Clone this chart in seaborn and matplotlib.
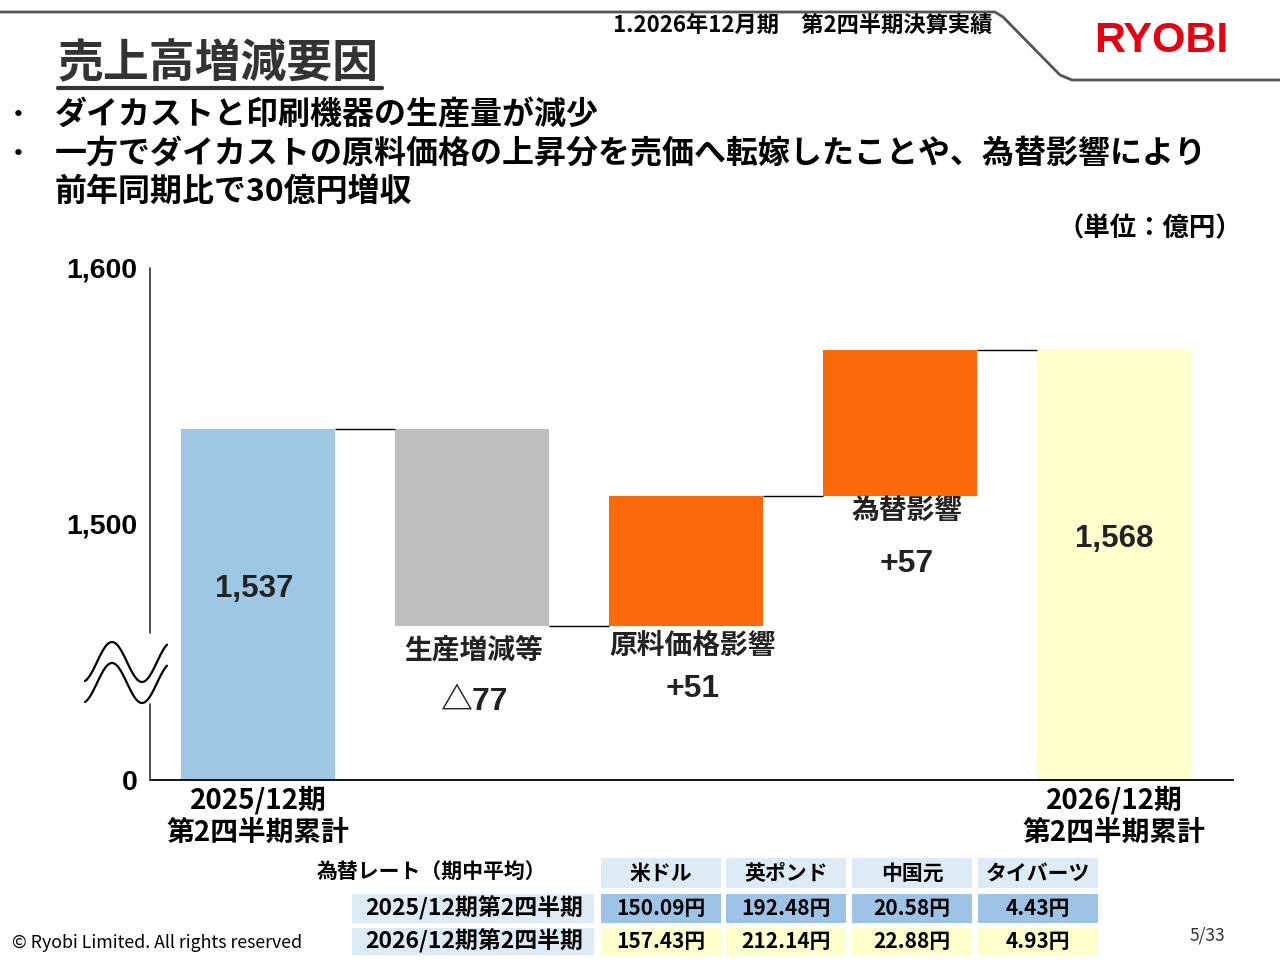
import numpy as np
import pandas as pd
import seaborn as sns
import matplotlib.pyplot as plt
from matplotlib.patches import Rectangle
from matplotlib.lines import Line2D

# ---------------------------------------------------------
# DATA (億円)
# ---------------------------------------------------------
start_label = "2025/12期\n第2四半期累計"
end_label = "2026/12期\n第2四半期累計"
start_value = 1537
end_value = 1568
factor_names = ["生産増減等", "原料価格影響", "為替影響"]
factor_values = [-77, 51, 57]
factor_texts = ["△77", "+51", "+57"]

y_ticks = [1400, 1500, 1600]          # 1400 is drawn as the broken "0"
y_tick_labels = ["0", "1,500", "1,600"]

currencies = ["米ドル", "英ポンド", "中国元", "タイバーツ"]
rate_rows = ["2025/12期第2四半期", "2026/12期第2四半期"]
rates_2025 = [150.09, 192.48, 20.58, 4.43]
rates_2026 = [157.43, 212.14, 22.88, 4.93]

# styles
bar_colors = ["#9DC7E5", "#BFBEBC", "#FA6A0A", "#FA6A0A", "#FFFFCC"]
TXT = "#222222"
JP = ["Noto Sans CJK JP", "DejaVu Sans"]
NUM = ["Liberation Sans", "Noto Sans CJK JP", "DejaVu Sans"]

W, H = 1280, 960


def px(x, y):
    return x / W, 1 - y / H


sns.set_theme(style="white")
plt.rcParams["font.family"] = JP

fig = plt.figure(figsize=(12.8, 9.6), dpi=100)

# ---------------------------------------------------------
# WATERFALL
# ---------------------------------------------------------
levels = np.cumsum([start_value] + factor_values)      # running totals
bottoms = [0] + list(levels[:-1]) + [0]
heights = [start_value] + factor_values + [end_value]
items = ["start"] + factor_names + ["end"]
df = pd.DataFrame({"item": items, "value": heights})

ax = fig.add_axes([150 / W, 1 - 780 / H, (1233 - 150) / W, 512 / H])
sns.barplot(data=df, x="item", y="value", bottom=bottoms, width=0.72,
            color=bar_colors[0], saturation=1, errorbar=None, linewidth=0,
            ax=ax)
for patch, c in zip(ax.patches, bar_colors):
    patch.set_facecolor(c)

ax.set_ylim(1400, 1600)
ax.set_xlim(-0.505, 4.556)
ax.set_xlabel("")
ax.set_ylabel("")

# connectors between bars
half = 0.36
for i, lv in enumerate(levels):
    ax.hlines(lv, i + half, i + 1 - half, color="black", lw=1.0)

ax.set_yticks(y_ticks)
ax.set_yticklabels(y_tick_labels, fontsize=20.5, fontweight="bold",
                   family=NUM, color="black")
ax.set_xticks(range(len(items)))
ax.set_xticklabels([start_label, "", "", "", end_label], fontsize=20,
                   fontweight="bold", color="black", linespacing=1.2)
ax.tick_params(axis="y", length=0, pad=9)
ax.tick_params(axis="x", length=0, pad=4)

for s in ["top", "right", "left"]:
    ax.spines[s].set_visible(False)
ax.spines["bottom"].set_color("black")
ax.spines["bottom"].set_linewidth(1.3)

# broken left axis
for y0, y1 in [(268, 633), (704, 780)]:
    fig.add_artist(Line2D([150 / W, 150 / W], [1 - y0 / H, 1 - y1 / H],
                          color="#444444", lw=1.3))
wx = np.linspace(85, 167, 120)
for c in [662, 683]:
    wy = c - 20 * np.cos(2 * np.pi * (wx - 112) / 60)
    fig.add_artist(Line2D(wx / W, 1 - wy / H, color="black", lw=1.6))

# totals inside bars
ax.annotate(f"{start_value:,}", (0, start_value), xytext=(-3, -160 * 0.72),
            textcoords="offset points", ha="center", va="center",
            fontsize=22.5, fontweight="bold", family=NUM, color=TXT)
ax.annotate(f"{end_value:,}", (4, end_value), xytext=(0, -189 * 0.72),
            textcoords="offset points", ha="center", va="center",
            fontsize=22.5, fontweight="bold", family=NUM, color=TXT)

# factor names and values below the floating bars
name_off = [24, 20, 15]
val_off = [76, 63, 68]
x_off = [2, 7, 7]
for i, (name, txt) in enumerate(zip(factor_names, factor_texts)):
    low = min(levels[i], levels[i + 1])
    ax.annotate(name, (i + 1, low), xytext=(x_off[i] * 0.72, -name_off[i] * 0.72),
                textcoords="offset points", ha="center", va="center",
                fontsize=20, fontweight="bold", color=TXT)
    ax.annotate(txt, (i + 1, low), xytext=(x_off[i] * 0.72, -val_off[i] * 0.72),
                textcoords="offset points", ha="center", va="center",
                fontsize=23, fontweight="bold", family=NUM, color=TXT)

# ---------------------------------------------------------
# HEADER
# ---------------------------------------------------------
hx = [0, 995, 1003, 1060, 1072, 1280]
hy = [12, 12, 17, 75, 80, 80]
fig.add_artist(Line2D(np.array(hx) / W, 1 - np.array(hy) / H,
                      color="#555555", lw=2))
fig.text(*px(992, 25), "1.2026年12月期　第2四半期決算実績", ha="right",
         va="center", fontsize=16, fontweight="bold", color="black")
fig.text(*px(1161, 41), "RYOBI", ha="center", va="center", fontsize=31,
         fontweight="bold", family=["Liberation Sans"], color="#E60012")

fig.text(*px(58, 64), "売上高増減要因", ha="left", va="center",
         fontsize=33, fontweight="bold", color="#333333")
fig.add_artist(Line2D([58 / W, 382 / W], [1 - 88 / H, 1 - 88 / H],
                      color="#333333", lw=3))

bullets = [(115, "ダイカストと印刷機器の生産量が減少", True),
           (154, "一方でダイカストの原料価格の上昇分を売価へ転嫁したことや、為替影響により", True),
           (192, "前年同期比で30億円増収", False)]
for y, line, dot in bullets:
    if dot:
        fig.text(*px(18, y), "・", ha="center", va="center", fontsize=18,
                 fontweight="bold", color="black")
    fig.text(*px(55, y), line, ha="left", va="center", fontsize=23,
             fontweight="bold", color="black")

fig.text(*px(1242, 229), "（単位：億円）", ha="right", va="center",
         fontsize=19, fontweight="bold", color="black")

# ---------------------------------------------------------
# FX RATE TABLE
# ---------------------------------------------------------
col_x = [601, 726, 852, 978]
col_w = 120
rows_y = [(858, 888), (894, 923), (928, 955)]
fills = ["#DDEBF7", "#9DC3E6", "#FFFFCC"]


def cell(x0, y0, w, h, color):
    fig.add_artist(Rectangle((x0 / W, 1 - (y0 + h) / H), w / W, h / H,
                             transform=fig.transFigure, facecolor=color,
                             edgecolor="none"))


fig.text(*px(432, 872), "為替レート（期中平均）", ha="center", va="center",
         fontsize=15, fontweight="bold", color="black")
for x0, name in zip(col_x, currencies):
    y0, y1 = rows_y[0]
    cell(x0, y0, col_w, y1 - y0, fills[0])
    fig.text(*px(x0 + col_w / 2, (y0 + y1) / 2), name, ha="center",
             va="center", fontsize=15, fontweight="bold", color="black")

for r, (label, vals) in enumerate(zip(rate_rows, [rates_2025, rates_2026])):
    y0, y1 = rows_y[r + 1]
    cell(352, y0, 242, y1 - y0, fills[0])
    fig.text(*px(474, (y0 + y1) / 2), label, ha="center", va="center",
             fontsize=16.5, fontweight="bold", color="black")
    for x0, v in zip(col_x, vals):
        cell(x0, y0, col_w, y1 - y0, fills[r + 1])
        fig.text(*px(x0 + col_w / 2, (y0 + y1) / 2), f"{v:.2f}円",
                 ha="center", va="center", fontsize=15, fontweight="bold",
                 color="black")

# ---------------------------------------------------------
# FOOTER
# ---------------------------------------------------------
fig.text(*px(12, 943), "© Ryobi Limited. All rights reserved", ha="left",
         va="center", fontsize=12.8, color="black")
fig.text(*px(1225, 935), "5/33", ha="right", va="center", fontsize=12.5,
         color="#333333")

fig.savefig("out.png", dpi=100)
